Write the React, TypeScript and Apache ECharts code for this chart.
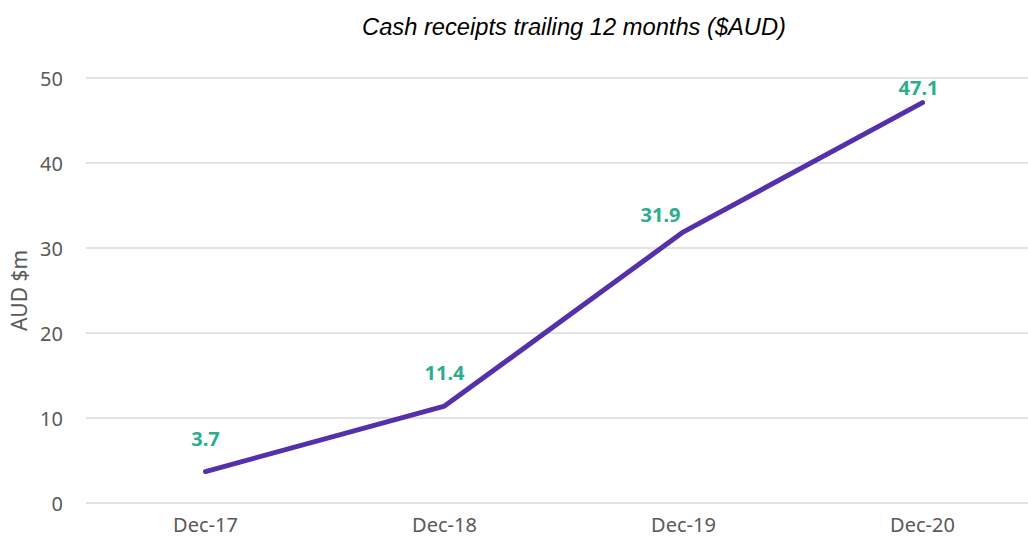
import React, { useEffect, useRef } from "react";
import * as echarts from "echarts";

const categories = ["Dec-17", "Dec-18", "Dec-19", "Dec-20"];
const values = [3.7, 11.4, 31.9, 47.1];
const labelOffsets: [number, number][] = [
  [0, -23],
  [0, -23],
  [-23, -7],
  [-4, -5],
];
const yTicks = { min: 0, max: 50, interval: 10 };

export default function App() {
  const ref = useRef<HTMLDivElement>(null);
  useEffect(() => {
    document.body.style.margin = "0";
    const chart = echarts.init(ref.current!, undefined, { renderer: "svg" });
    chart.setOption({
      animation: false,
      backgroundColor: "#ffffff",
      title: {
        text: "Cash receipts trailing 12 months ($AUD)",
        left: 569,
        textAlign: "center",
        top: 10,
        textStyle: {
          fontFamily: "Liberation Sans, Arial, sans-serif",
          fontStyle: "italic",
          fontWeight: "normal",
          fontSize: 23.7,
          color: "#000000",
        },
      },
      grid: {
        left: 86,
        top: 78,
        width: 956,
        height: 425,
        outerBoundsMode: "none",
        containLabel: false,
      },
      xAxis: {
        type: "category",
        data: categories,
        boundaryGap: true,
        axisLine: { show: false },
        axisTick: { show: false },
        axisLabel: {
          color: "#595959",
          fontFamily: "Noto Sans, sans-serif",
          fontSize: 20,
          margin: 11,
        },
      },
      yAxis: {
        type: "value",
        min: yTicks.min,
        max: yTicks.max,
        interval: yTicks.interval,
        name: "AUD $m",
        nameLocation: "middle",
        nameGap: 51,
        nameTextStyle: {
          color: "#595959",
          fontFamily: "Noto Sans, sans-serif",
          fontSize: 21,
        },
        axisLine: { show: false },
        axisTick: { show: false },
        axisLabel: {
          color: "#595959",
          fontFamily: "Noto Sans, sans-serif",
          fontSize: 20,
          margin: 23,
        },
        splitLine: { lineStyle: { color: "#d9d9d9", width: 1.5 } },
      },
      series: [
        {
          type: "line",
          data: values.map((v, i) => ({
            value: v,
            label: { offset: labelOffsets[i] },
          })),
          symbol: "circle",
          symbolSize: 1,
          showSymbol: true,
          itemStyle: { color: "rgba(0,0,0,0)", borderWidth: 0 },
          lineStyle: { color: "#5530ab", width: 5, cap: "round" },
          label: {
            show: true,
            position: "top",
            distance: 0,
            color: "#2bae8e",
            fontWeight: "bold",
            fontFamily: "Noto Sans, sans-serif",
            fontSize: 20,
          },
        },
      ],
    });
    return () => chart.dispose();
  }, []);
  return <div ref={ref} style={{ width: 1028, height: 542 }} />;
}
